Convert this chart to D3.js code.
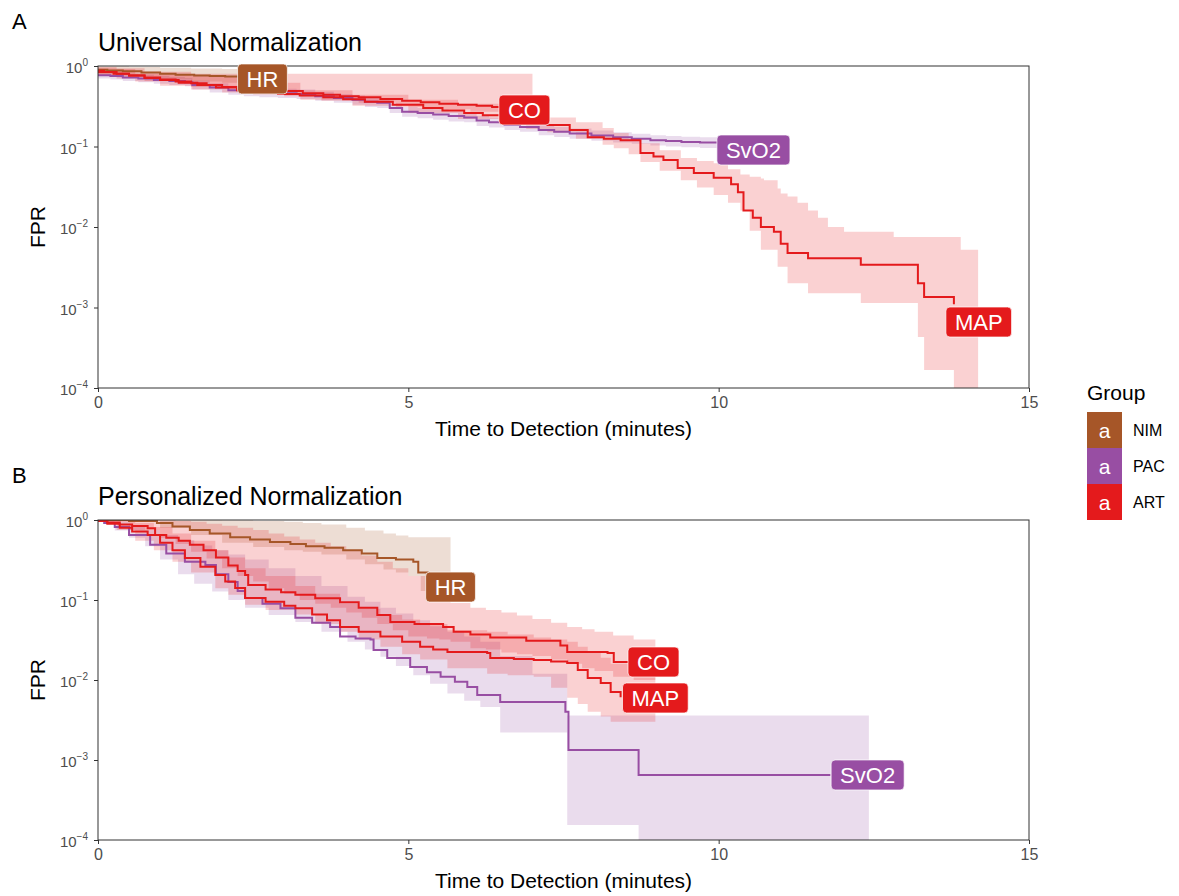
<!DOCTYPE html>
<html>
<head>
<meta charset="utf-8">
<script src="https://cdn.jsdelivr.net/npm/d3@7"></script>
<style>
  body { margin: 0; background: #fff; }
  text { font-family: "Liberation Sans", Arial, sans-serif; }
</style>
</head>
<body>
<svg width="1179" height="896"></svg>
<script>
// ---- data ----
const groups = ["NIM", "PAC", "ART"];
const groupColors = ["#A65628", "#984EA3", "#E41A1C"];
const signalGroup = { HR: "NIM", SvO2: "PAC", CO: "ART", MAP: "ART" };
const xTicks = [0, 5, 10, 15];
const yTickExp = [0, -1, -2, -3, -4];

// Panel A - universal normalization
const uniHR_time = [0, 0.15, 0.4, 0.7, 1.0, 1.25, 1.55, 1.8, 2.05, 2.3];
const uniHR_fpr  = [0.9, 0.88, 0.86, 0.83, 0.8, 0.78, 0.76, 0.75, 0.74, 0.73];
const uniHR_ciTime = [0, 0.5, 1, 1.5, 2, 2.6];
const uniHR_ciHi = [0.99, 0.97, 0.95, 0.93, 0.92, 0.92];
const uniHR_ciLo = [0.8, 0.74, 0.68, 0.64, 0.62, 0.6];

const uniCO_time = [0, 0.1, 0.3, 0.5, 0.75, 1, 1.25, 1.5, 1.75, 2, 2.24, 2.6, 3.0, 3.3, 3.63, 3.9, 4.2, 4.55, 4.9, 5.2, 5.5, 5.8, 6.1, 6.35, 6.6];
const uniCO_fpr  = [0.87, 0.84, 0.8, 0.76, 0.72, 0.68, 0.64, 0.61, 0.58, 0.55, 0.53, 0.51, 0.49, 0.46, 0.44, 0.42, 0.41, 0.39, 0.37, 0.355, 0.34, 0.33, 0.32, 0.31, 0.3];
const uniCO_ciTime = [0, 0.3, 0.6, 1, 1.5, 2, 2.5, 3, 3.6, 4.2, 4.8, 5.5, 6, 6.6, 7.0];
const uniCO_ciHi = [0.97, 0.92, 0.8, 0.8, 0.8, 0.8, 0.8, 0.8, 0.8, 0.8, 0.8, 0.8, 0.8, 0.8, 0.8];
const uniCO_ciLo = [0.76, 0.7, 0.64, 0.57, 0.51, 0.47, 0.44, 0.42, 0.37, 0.35, 0.31, 0.29, 0.27, 0.25, 0.25];

const uniSvO2_time = [0, 0.2, 0.4, 0.65, 0.9, 1.15, 1.4, 1.52, 1.8, 2.1, 2.35, 2.6, 2.9, 3.2, 3.5, 3.8, 4.1, 4.3, 4.5, 4.7, 4.9, 5.15, 5.4, 5.65, 5.9, 6.1, 6.3, 6.55, 6.8, 7.1, 7.35, 7.6, 7.95, 8.3, 8.6, 8.9, 9.15, 9.4, 9.7, 10.0];
const uniSvO2_fpr  = [0.77, 0.75, 0.72, 0.7, 0.67, 0.65, 0.63, 0.58, 0.54, 0.5, 0.48, 0.47, 0.46, 0.45, 0.42, 0.4, 0.38, 0.36, 0.35, 0.3, 0.27, 0.26, 0.25, 0.24, 0.23, 0.21, 0.2, 0.185, 0.175, 0.16, 0.152, 0.145, 0.137, 0.13, 0.125, 0.12, 0.117, 0.114, 0.112, 0.11];
const uniSvO2_ciHi = [0.85, 0.83, 0.8, 0.78, 0.75, 0.73, 0.71, 0.66, 0.61, 0.57, 0.54, 0.53, 0.52, 0.51, 0.48, 0.45, 0.43, 0.41, 0.4, 0.34, 0.31, 0.3, 0.29, 0.275, 0.26, 0.24, 0.23, 0.21, 0.2, 0.185, 0.175, 0.167, 0.158, 0.15, 0.144, 0.138, 0.135, 0.132, 0.13, 0.128];
const uniSvO2_ciLo = [0.7, 0.68, 0.65, 0.63, 0.6, 0.58, 0.56, 0.51, 0.47, 0.44, 0.42, 0.41, 0.4, 0.39, 0.37, 0.35, 0.33, 0.31, 0.3, 0.26, 0.235, 0.225, 0.215, 0.205, 0.2, 0.18, 0.172, 0.16, 0.152, 0.138, 0.131, 0.125, 0.118, 0.112, 0.108, 0.103, 0.1, 0.098, 0.096, 0.095];

const uniMAP_time = [0, 0.25, 0.5, 0.75, 1, 1.3, 1.6, 1.9, 2.24, 2.55, 2.9, 3.25, 3.63, 3.95, 4.3, 4.75, 5.24, 5.55, 5.9, 6.2, 6.53, 6.9, 7.24, 7.6, 7.89, 8.15, 8.42, 8.74, 8.95, 9.11, 9.34, 9.6, 9.92, 10.2, 10.31, 10.4, 10.55, 10.68, 10.89, 11.0, 11.11, 11.44, 12.29, 13.21, 13.31, 13.79];
const uniMAP_fpr  = [0.84, 0.8, 0.76, 0.71, 0.67, 0.62, 0.58, 0.54, 0.5, 0.47, 0.45, 0.43, 0.41, 0.385, 0.36, 0.33, 0.3, 0.28, 0.26, 0.245, 0.23, 0.205, 0.185, 0.16, 0.13, 0.125, 0.12, 0.083, 0.075, 0.068, 0.054, 0.047, 0.041, 0.034, 0.027, 0.016, 0.013, 0.01, 0.0087, 0.0062, 0.00475, 0.0041, 0.0034, 0.002, 0.00135, 0.0011];
const uniMAP_ciTime = [0, 0.75, 1.5, 2.3, 3.26, 4.1, 5.0, 5.8, 6.53, 6.9, 7.24, 7.7, 8.13, 8.31, 8.55, 8.74, 9.05, 9.39, 9.65, 9.92, 10.15, 10.35, 10.5, 10.68, 10.73, 10.95, 11.0, 11.11, 11.27, 11.44, 11.6, 11.76, 12.02, 12.29, 12.82, 13.21, 13.31, 13.79, 13.9, 14.18];
const uniMAP_ciHi = [0.94, 0.85, 0.75, 0.62, 0.5, 0.44, 0.38, 0.34, 0.3, 0.26, 0.23, 0.2, 0.17, 0.147, 0.125, 0.11, 0.09, 0.072, 0.066, 0.062, 0.052, 0.045, 0.042, 0.04, 0.038, 0.03, 0.026, 0.024, 0.02, 0.016, 0.013, 0.01, 0.0087, 0.0087, 0.0075, 0.0075, 0.0075, 0.0075, 0.0052, 0.0052];
const uniMAP_ciLo = [0.75, 0.65, 0.55, 0.46, 0.38, 0.32, 0.26, 0.22, 0.185, 0.165, 0.15, 0.125, 0.105, 0.095, 0.08, 0.064, 0.05, 0.038, 0.031, 0.025, 0.02, 0.016, 0.009, 0.0052, 0.0052, 0.0032, 0.0032, 0.002, 0.002, 0.0015, 0.0015, 0.0015, 0.0015, 0.00114, 0.00114, 0.00043, 0.000167, 0.00005, 0.00005, 0.00005];

const uniLabels = ["HR", "CO", "SvO2", "MAP"];
const uniLabelTime = [2.65, 6.87, 10.56, 14.19];
const uniLabelFpr = [0.69, 0.284, 0.0905, 0.00066];

// Panel B - personalized normalization
const perHR_time = [0, 0.5, 0.95, 1.2, 1.48, 1.8, 2.13, 2.45, 2.77, 3.1, 3.35, 3.65, 3.95, 4.25, 4.5, 4.8, 5.08, 5.16, 5.31];
const perHR_fpr  = [1.0, 0.97, 0.92, 0.83, 0.75, 0.68, 0.61, 0.57, 0.53, 0.5, 0.47, 0.45, 0.42, 0.38, 0.335, 0.32, 0.3, 0.22, 0.205];
const perHR_ciTime = [0, 1, 1.5, 2, 2.5, 3, 3.3, 3.6, 4, 4.3, 4.6, 4.8, 5.0, 5.2, 5.68];
const perHR_ciHi = [1, 1, 1, 0.99, 0.97, 0.95, 0.92, 0.88, 0.8, 0.74, 0.68, 0.64, 0.61, 0.61, 0.61];
const perHR_ciLo = [0.98, 0.8, 0.65, 0.52, 0.46, 0.42, 0.4, 0.37, 0.32, 0.28, 0.24, 0.22, 0.2, 0.13, 0.13];

const perCO_time = [0, 0.15, 0.35, 0.55, 0.8, 0.92, 1.1, 1.3, 1.48, 1.7, 1.9, 2.1, 2.25, 2.37, 2.42, 2.7, 2.95, 3.18, 3.5, 3.9, 4.2, 4.5, 4.71, 5.1, 5.56, 5.73, 6.0, 6.32, 6.9, 7.45, 7.56, 8.21, 8.31, 8.58];
const perCO_fpr  = [0.97, 0.93, 0.88, 0.84, 0.79, 0.65, 0.6, 0.55, 0.49, 0.42, 0.34, 0.27, 0.23, 0.205, 0.154, 0.135, 0.125, 0.116, 0.105, 0.094, 0.08, 0.065, 0.053, 0.05, 0.046, 0.04, 0.037, 0.034, 0.031, 0.027, 0.0224, 0.0218, 0.0168, 0.0168];
const perCO_ciTime = [0, 0.5, 1, 1.25, 1.5, 1.75, 2.0, 2.25, 2.5, 2.75, 3, 3.25, 3.5, 3.75, 4, 4.25, 4.5, 4.75, 5, 5.3, 5.5, 5.68, 6.0, 6.25, 6.5, 6.75, 7.0, 7.3, 7.56, 7.8, 8.0, 8.3, 8.63, 8.98];
const perCO_ciHi = [1, 1, 0.99, 0.97, 0.95, 0.9, 0.85, 0.8, 0.75, 0.68, 0.62, 0.57, 0.52, 0.47, 0.42, 0.36, 0.3, 0.25, 0.2, 0.15, 0.12, 0.092, 0.08, 0.075, 0.07, 0.064, 0.058, 0.052, 0.046, 0.043, 0.04, 0.036, 0.032, 0.032];
const perCO_ciLo = [0.95, 0.75, 0.6, 0.5, 0.4, 0.33, 0.25, 0.2, 0.17, 0.14, 0.12, 0.1, 0.09, 0.08, 0.07, 0.06, 0.05, 0.042, 0.035, 0.033, 0.032, 0.03, 0.025, 0.024, 0.022, 0.021, 0.02, 0.018, 0.016, 0.014, 0.013, 0.011, 0.01, 0.008];

const perMAP_time = [0, 0.15, 0.35, 0.55, 0.8, 1.0, 1.2, 1.4, 1.65, 1.89, 2.05, 2.21, 2.37, 2.7, 3.0, 3.18, 3.45, 3.69, 3.9, 4.2, 4.55, 4.9, 5.19, 5.4, 5.63, 6.27, 6.32, 6.7, 7.02, 7.3, 7.56, 7.73, 7.89, 8.1, 8.26, 8.42];
const perMAP_fpr  = [0.97, 0.9, 0.8, 0.72, 0.65, 0.52, 0.42, 0.335, 0.26, 0.205, 0.17, 0.141, 0.106, 0.095, 0.085, 0.079, 0.066, 0.056, 0.046, 0.04, 0.035, 0.03, 0.026, 0.024, 0.0224, 0.0218, 0.0188, 0.0183, 0.0178, 0.017, 0.0163, 0.0133, 0.0106, 0.0092, 0.0071, 0.0061];
const perMAP_ciTime = [0, 0.3, 0.6, 0.9, 1.2, 1.5, 1.89, 2.1, 2.37, 2.7, 3.18, 3.5, 3.9, 4.2, 4.55, 4.9, 5.19, 5.63, 6.27, 6.6, 7.02, 7.3, 7.56, 7.73, 7.89, 8.1, 8.26, 8.5, 8.98];
const perMAP_ciHi = [1, 0.98, 0.92, 0.82, 0.68, 0.55, 0.42, 0.34, 0.25, 0.2, 0.15, 0.12, 0.09, 0.078, 0.065, 0.057, 0.05, 0.042, 0.04, 0.037, 0.034, 0.032, 0.03, 0.026, 0.022, 0.019, 0.016, 0.016, 0.016];
const perMAP_ciLo = [0.95, 0.75, 0.55, 0.42, 0.3, 0.22, 0.14, 0.116, 0.087, 0.075, 0.066, 0.05, 0.04, 0.032, 0.026, 0.021, 0.018, 0.014, 0.012, 0.0115, 0.011, 0.008, 0.006, 0.005, 0.004, 0.0035, 0.003, 0.003, 0.003];

const perSvO2_time = [0, 0.1, 0.27, 0.5, 0.84, 1.1, 1.4, 1.73, 1.9, 2.1, 2.25, 2.37, 2.65, 2.94, 3.18, 3.45, 3.74, 3.9, 4.15, 4.39, 4.44, 4.66, 5.03, 5.3, 5.52, 5.75, 5.95, 6.11, 6.48, 7.53, 7.58, 8.71, 11.8];
const perSvO2_fpr  = [0.97, 0.92, 0.82, 0.65, 0.49, 0.38, 0.3, 0.274, 0.21, 0.168, 0.13, 0.106, 0.09, 0.079, 0.06, 0.052, 0.046, 0.035, 0.033, 0.032, 0.0237, 0.0188, 0.0145, 0.0125, 0.011, 0.0095, 0.0082, 0.0065, 0.0053, 0.004, 0.00133, 0.00065, 0.00065];
const perSvO2_ciTime = [0, 0.27, 0.5, 0.76, 1.0, 1.29, 1.55, 1.84, 2.1, 2.37, 2.75, 3.18, 3.6, 4.02, 4.3, 4.55, 4.8, 5.08, 5.35, 5.63, 5.9, 6.16, 6.48, 7.0, 7.56, 8.71, 12.42];
const perSvO2_ciHi = [1, 0.95, 0.85, 0.75, 0.65, 0.56, 0.48, 0.42, 0.37, 0.32, 0.25, 0.2, 0.15, 0.11, 0.095, 0.08, 0.068, 0.056, 0.047, 0.04, 0.035, 0.03, 0.02, 0.012, 0.0036, 0.0036, 0.0036];
const perSvO2_ciLo = [0.95, 0.74, 0.6, 0.47, 0.32, 0.21, 0.16, 0.128, 0.1, 0.08, 0.065, 0.053, 0.04, 0.03, 0.024, 0.0195, 0.015, 0.0115, 0.009, 0.0068, 0.0055, 0.0046, 0.0022, 0.0022, 0.000154, 0.00005, 0.00005];

const perLabels = ["HR", "CO", "MAP", "SvO2"];
const perLabelTime = [5.68, 8.95, 8.98, 12.4];
const perLabelFpr = [0.145, 0.0168, 0.00596, 0.00065];

// ---- helpers ----
function curve(name, time, fpr, ciTime, ciLo, ciHi) {
  return {
    name: name,
    color: groupColors[groups.indexOf(signalGroup[name])],
    line: time.map((t, i) => ({ t: t, v: fpr[i] })),
    band: ciTime.map((t, i) => ({ t: t, lo: ciLo[i], hi: ciHi[i] }))
  };
}

const panels = [
  {
    tag: "A", title: "Universal Normalization", top: 66, bottom: 388,
    curves: [
      curve("HR", uniHR_time, uniHR_fpr, uniHR_ciTime, uniHR_ciLo, uniHR_ciHi),
      curve("SvO2", uniSvO2_time, uniSvO2_fpr, uniSvO2_time, uniSvO2_ciLo, uniSvO2_ciHi),
      curve("CO", uniCO_time, uniCO_fpr, uniCO_ciTime, uniCO_ciLo, uniCO_ciHi),
      curve("MAP", uniMAP_time, uniMAP_fpr, uniMAP_ciTime, uniMAP_ciLo, uniMAP_ciHi)
    ],
    labels: uniLabels.map((l, i) => ({ name: l, t: uniLabelTime[i], v: uniLabelFpr[i] }))
  },
  {
    tag: "B", title: "Personalized Normalization", top: 520, bottom: 840,
    curves: [
      curve("HR", perHR_time, perHR_fpr, perHR_ciTime, perHR_ciLo, perHR_ciHi),
      curve("SvO2", perSvO2_time, perSvO2_fpr, perSvO2_ciTime, perSvO2_ciLo, perSvO2_ciHi),
      curve("CO", perCO_time, perCO_fpr, perCO_ciTime, perCO_ciLo, perCO_ciHi),
      curve("MAP", perMAP_time, perMAP_fpr, perMAP_ciTime, perMAP_ciLo, perMAP_ciHi)
    ],
    labels: perLabels.map((l, i) => ({ name: l, t: perLabelTime[i], v: perLabelFpr[i] }))
  }
];

const svg = d3.select("svg");
const left = 98, right = 1029;
const x = d3.scaleLinear().domain([0, 15]).range([left, right]);

panels.forEach((p, pi) => {
  const y = d3.scaleLog().domain([1e-4, 1]).range([p.bottom, p.top]);
  const g = svg.append("g");

  svg.append("clipPath").attr("id", "clip" + pi)
    .append("rect").attr("x", left).attr("y", p.top)
    .attr("width", right - left).attr("height", p.bottom - p.top);

  // tag and title
  g.append("text").attr("x", 12).attr("y", p.top - 37)
    .attr("font-size", 22).attr("fill", "#000").text(p.tag);
  g.append("text").attr("x", left).attr("y", p.top - 15)
    .attr("font-size", 25).attr("fill", "#000").text(p.title);

  const plot = g.append("g").attr("clip-path", "url(#clip" + pi + ")");

  const area = d3.area()
    .curve(d3.curveStepAfter)
    .x(d => x(d.t))
    .y0(d => y(Math.max(d.lo, 1e-5)))
    .y1(d => y(d.hi));
  const line = d3.line()
    .curve(d3.curveStepAfter)
    .x(d => x(d.t))
    .y(d => y(d.v));

  plot.selectAll("path.band")
    .data(p.curves)
    .enter()
    .append("path")
    .attr("class", "band")
    .attr("d", d => area(d.band))
    .attr("fill", d => d.color)
    .attr("fill-opacity", 0.2);

  plot.selectAll("path.fpr")
    .data(p.curves)
    .enter()
    .append("path")
    .attr("class", "fpr")
    .attr("d", d => line(d.line))
    .attr("fill", "none")
    .attr("stroke", d => d.color)
    .attr("stroke-width", 2);

  // axes
  const xAxis = d3.axisBottom(x).tickValues(xTicks).tickSize(4).tickPadding(5);
  const gx = g.append("g").attr("transform", "translate(0," + p.bottom + ")").call(xAxis);
  gx.select(".domain").remove();
  gx.selectAll("line").attr("stroke", "#333");
  gx.selectAll("text").attr("font-size", 16).attr("fill", "#4d4d4d")
    .style("font-family", "Liberation Sans, Arial, sans-serif");

  const yAxis = d3.axisLeft(y).tickValues(yTickExp.map(e => Math.pow(10, e)))
    .tickSize(4).tickPadding(6).tickFormat("");
  const gy = g.append("g").attr("transform", "translate(" + left + ",0)").call(yAxis);
  gy.select(".domain").remove();
  gy.selectAll("line").attr("stroke", "#333");
  gy.selectAll(".tick").each(function (d, i) {
    const t = d3.select(this).select("text")
      .attr("font-size", 15).attr("fill", "#4d4d4d")
      .style("font-family", "Liberation Sans, Arial, sans-serif");
    t.append("tspan").attr("dy", "0.45em").text("10");
    t.append("tspan").attr("font-size", 10).attr("dy", "-0.7em")
      .text(String(Math.round(Math.log10(d))).replace("-", "\u2212"));
  });

  // panel border
  g.append("rect").attr("x", left).attr("y", p.top)
    .attr("width", right - left).attr("height", p.bottom - p.top)
    .attr("fill", "none").attr("stroke", "#333").attr("stroke-width", 1);

  // axis titles
  g.append("text").attr("x", (left + right) / 2).attr("y", p.bottom + 48)
    .attr("text-anchor", "middle").attr("font-size", 21).attr("fill", "#000")
    .text("Time to Detection (minutes)");
  g.append("text")
    .attr("transform", "translate(45," + (p.top + p.bottom) / 2 + ") rotate(-90)")
    .attr("text-anchor", "middle").attr("font-size", 21).attr("fill", "#000")
    .text("FPR");

  // labels
  const lab = g.selectAll("g.lab")
    .data(p.labels)
    .enter()
    .append("g")
    .attr("class", "lab")
    .attr("transform", d => "translate(" + x(d.t) + "," + y(d.v) + ")");
  lab.each(function (d) {
    const el = d3.select(this);
    const col = groupColors[groups.indexOf(signalGroup[d.name])];
    const rect = el.append("rect");
    const txt = el.append("text").attr("text-anchor", "middle")
      .attr("dy", "0.36em").attr("font-size", 22).attr("fill", "#fff").text(d.name);
    const w = txt.node().getComputedTextLength() + 18;
    rect.attr("x", -w / 2).attr("y", -15).attr("width", w).attr("height", 30)
      .attr("rx", 4).attr("fill", col).attr("stroke", "#fff").attr("stroke-width", 0.7);
  });
});

// legend
const legend = svg.append("g").attr("transform", "translate(1087,0)");
legend.append("text").attr("x", 0).attr("y", 400).attr("font-size", 21).attr("fill", "#000").text("Group");
groups.forEach((gr, i) => {
  const yy = 412 + i * 36;
  legend.append("rect").attr("x", 0).attr("y", yy).attr("width", 35).attr("height", 36)
    .attr("fill", groupColors[i]);
  legend.append("text").attr("x", 17.5).attr("y", yy + 18).attr("dy", "0.36em")
    .attr("text-anchor", "middle").attr("font-size", 21).attr("fill", "#fff").text("a");
  legend.append("text").attr("x", 46).attr("y", yy + 18).attr("dy", "0.36em")
    .attr("font-size", 16).attr("fill", "#000").text(gr);
});
</script>
</body>
</html>
